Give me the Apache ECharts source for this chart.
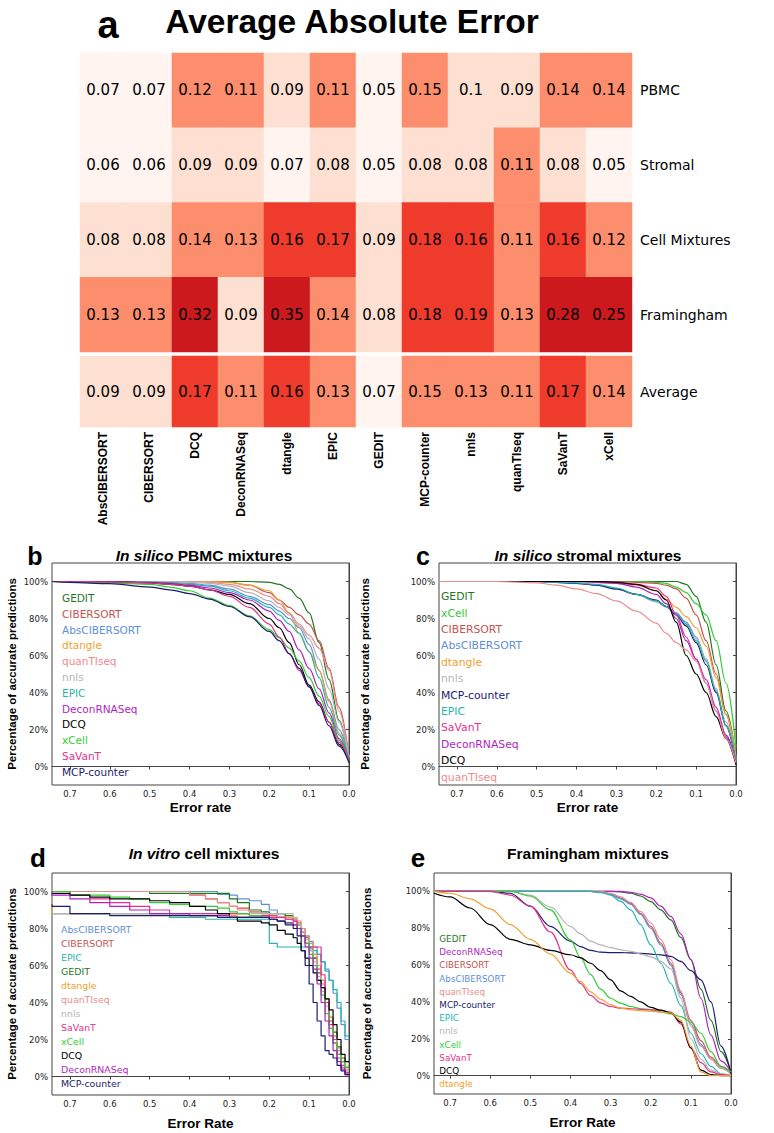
<!DOCTYPE html>
<html><head><meta charset="utf-8">
<script src="https://cdn.jsdelivr.net/npm/echarts/dist/echarts.min.js"></script>
<style>html,body{margin:0;padding:0;background:#fff}#c{width:774px;height:1133px}</style>
</head><body><div id="c"></div>
<script>
// ---------- heatmap data ----------
const methods = ['AbsCIBERSORT','CIBERSORT','DCQ','DeconRNASeq','dtangle','EPIC','GEDIT','MCP-counter','nnls','quanTIseq','SaVanT','xCell'];
const rowNames = ['PBMC','Stromal','Cell Mixtures','Framingham'];
const avgRowName = ['Average'];
const errPBMC       = [0.07,0.07,0.12,0.11,0.09,0.11,0.05,0.15,0.1,0.09,0.14,0.14];
const errStromal    = [0.06,0.06,0.09,0.09,0.07,0.08,0.05,0.08,0.08,0.11,0.08,0.05];
const errCellMix    = [0.08,0.08,0.14,0.13,0.16,0.17,0.09,0.18,0.16,0.11,0.16,0.12];
const errFramingham = [0.13,0.13,0.32,0.09,0.35,0.14,0.08,0.18,0.19,0.13,0.28,0.25];
const errAverage    = [0.09,0.09,0.17,0.11,0.16,0.13,0.07,0.15,0.13,0.11,0.17,0.14];

// ---------- curve data ----------
const yTicks = [0,20,40,60,80,100];
const xTicks = [0,0.1,0.2,0.3,0.4,0.5,0.6,0.7];
const bX = [0,0.025,0.05,0.075,0.1,0.125,0.15,0.175,0.2,0.25,0.3,0.35,0.4,0.45,0.5,0.6,0.7,0.745];
const pbmcCurves = {
  'GEDIT':        [3,25,47,67,83,91,96,98.5,99.5,100,100,100,100,100,100,100,100,100],
  'CIBERSORT':    [5,32,53,68,77,82,86,90,94,98,99.5,100,100,100,100,100,100,100],
  'AbsCIBERSORT': [4,20,36,52,66,75,80,84,87.5,92,96,98,99,99.5,100,100,100,100],
  'dtangle':      [3,18,35,52,62,72,83,90,95,98,99.5,100,100,100,100,100,100,100],
  'quanTIseq':    [5,30,52,64,71,77,83,88,92,96,98.5,99.5,100,100,100,100,100,100],
  'nnls':         [5,24,42,58,69,76,82,86,89.5,94,97.5,99,99.5,100,100,100,100,100],
  'EPIC':         [4,17,32,48,62,72,77,82,86,91,95,97.5,98.5,99.3,99.7,100,100,100],
  'DeconRNASeq':  [3,15,29,42,53,63,73,79,84,90,94,96.5,98,99,99.5,100,100,100],
  'DCQ':          [3,12,24,35,44,55,67,75,80,88,93,95.5,97.5,98.5,99.3,99.8,100,100],
  'xCell':        [3,14,27,38,48,57,64,69.5,74,81.5,87,91,95,97,98.5,99.3,99.7,100],
  'SaVanT':       [3,13,24,34,43,52,61,70,77,86,92,95.5,97.5,98.5,99.3,99.8,100,100],
  'MCP-counter':  [2,11,22,33,43,53,61,68,73,81,86.5,90.5,93.5,95.5,97,98.8,99.5,100]
};
const stromalCurves = {
  'GEDIT':        [5,30,55,78,92,98.5,100,100,100,100,100,100,100,100,100,100,100,100],
  'xCell':        [10,45,68,82,88,94,97,99,99.5,100,100,100,100,100,100,100,100,100],
  'CIBERSORT':    [3,28,50,68,82,91,96,98,99,99.5,100,100,100,100,100,100,100,100],
  'AbsCIBERSORT': [3,22,40,58,70,78,83,86.5,89.5,93,96,98,99,99.5,100,100,100,100],
  'dtangle':      [5,28,48,65,75,81,86,90.5,95,98,99,99.5,100,100,100,100,100,100],
  'nnls':         [4,24,42,58,69,77,82,86,89,93,96,98,99,99.5,100,100,100,100],
  'MCP-counter':  [2,22,40,55,67,76,82,86.5,90,93,96,98,99,99.5,100,100,100,100],
  'EPIC':         [3,22,41,57,68,77,82.5,86.5,89.5,93,96.5,98.5,99.3,99.7,100,100,100,100],
  'SaVanT':       [2,16,30,45,58,70,82,92,96.5,98.5,99.5,100,100,100,100,100,100,100],
  'DeconRNASeq':  [2,17,32,47,58,68,80,88,93,97,99,99.5,100,100,100,100,100,100],
  'DCQ':          [1,15,27,40,50,60,78,90,95,98.5,99.5,100,100,100,100,100,100,100],
  'quanTIseq':    [2,15,30,45,57,63,67,72,77.5,84,89.5,93.5,96,98,99.3,100,100,100]
};
const dX = [0,0.01,0.02,0.03,0.04,0.05,0.06,0.07,0.08,0.09,0.1,0.11,0.12,0.13,0.14,0.16,0.18,0.2,0.22,0.25,0.28,0.3,0.33,0.36,0.4,0.45,0.5,0.55,0.6,0.65,0.7,0.745];
const cellMixCurves = {
  'AbsCIBERSORT': [20,28,37,45,52,58,62,66,70,73,76,80,83,85,86,88,90,93,95,96,98,98.5,100,100,100,100,100,100,100,100,100,100],
  'CIBERSORT':    [2,6,12,20,30,40,50,58,64,68,72,76,80,84,85,86,87,88,89,91,92,94,96,98,100,100,100,100,100,100,100,100],
  'EPIC':         [22,30,40,47,52,57,62,66,68,69,70,70,70,70,70,70,72,85,85,85,85,85,85,86,86,88,88,88,88,88,88,88],
  'GEDIT':        [5,10,16,24,32,40,48,56,64,70,75,78,82,85,87,88,88,89,90,94,96,99,99,99,99,99,100,100,100,100,100,100],
  'dtangle':      [4,8,14,22,30,42,52,60,66,72,76,80,83,85,86,86,86,86,86,86,87,87,87,87,88,88,88,88,88,88,88,94],
  'quanTIseq':    [3,8,14,22,32,42,52,60,66,72,76,80,84,85,85,86,88,88,89,90,92,94,96,98,100,100,100,100,100,100,100,100],
  'nnls':         [3,8,15,22,30,38,46,54,62,68,74,78,82,86,88,88,88,88,88,88,88,88,88,88,88,88,88,88,88,88,88,88],
  'SaVanT':       [2,5,10,18,28,40,55,70,70,70,72,76,80,84,85,86,86,87,87,88,88,88,88,88,88,90,92,94,96,98,100,100],
  'xCell':        [5,8,12,18,26,34,44,52,60,66,72,76,80,82,83,84,85,86,87,88,89,91,92,92,93,94,96,97,98,98,100,100],
  'DCQ':          [8,12,20,28,36,42,48,52,56,60,64,68,72,75,77,79,82,83,84,84,86,88,90,92,94,95,96,96,97,98,99,99],
  'DeconRNASeq':  [1,4,8,14,22,30,40,50,58,64,70,76,80,82,83,84,85,86,86,86,86,87,87,87,88,88,90,92,94,96,98,100],
  'MCP-counter':  [1,3,6,10,12,14,22,30,40,50,60,68,76,80,82,84,85,86,86,86,86,86,87,87,87,87,87,87,88,88,92,93]
};
const eX = [0,0.025,0.05,0.075,0.1,0.125,0.15,0.175,0.2,0.225,0.25,0.275,0.3,0.325,0.35,0.375,0.4,0.45,0.5,0.55,0.6,0.65,0.7,0.74];
const framCurves = {
  'GEDIT':        [2,13,30,47,63,75,84.5,90,94.5,97.5,99,99.7,100,100,100,100,100,100,100,100,100,100,100,100],
  'DeconRNASeq':  [2,8,22,42,63,77,86.4,92,96.5,98.5,99.5,100,100,100,100,100,100,100,100,100,100,100,100,100],
  'CIBERSORT':    [1,5,10,19,30,45,61,72,81,88,93.5,96.4,98.5,99.5,100,100,100,100,100,100,100,100,100,100],
  'AbsCIBERSORT': [1,4,9,17,28,44,60,71,80,87.5,93,96,98.5,99.5,100,100,100,100,100,100,100,100,100,100],
  'quanTIseq':    [1,4,9,16,27,46,63,74,83,89,94,97,99,100,100,100,100,100,100,100,100,100,100,100],
  'MCP-counter':  [1,16,40,52,57,62,64.7,65.5,66,66.4,66.6,66.8,66.8,67,68,70,73,81,92,99,100,100,100,100],
  'EPIC':         [0,1,5,12,23,38,50,61,71,82,90,94.6,98,99.5,100,100,100,100,100,100,100,100,100,100],
  'nnls':         [0,1,3,9,20,42,58,62,64.5,66,67.5,68.3,69.5,71,73,77,81,91.5,98,100,100,100,100,100],
  'xCell':        [2,5,13,23,29,32,33.5,34.5,35.8,36.3,37.5,39.3,42,47,55,64,73.7,90,97.5,100,100,100,100,100],
  'SaVanT':       [0,0.5,2,7,15,28,34.5,35.3,35.7,36,36.3,36.6,37.5,39.5,43.5,50,57.4,78,92,98,100,100,100,100],
  'DCQ':          [0,0,0.5,3,15,29,34,35.5,37,40,43,46,52,57,61,64,65.6,68,71,74,82,91,97,99],
  'dtangle':      [0,0,0,2,16,30,34,34.5,35,35.2,35.8,36.6,38.5,41.5,45.5,51,55.6,66,74,82,90.5,96,99,100]
};

// ---------- styles ----------
const colors = {
  'GEDIT':'#1f771f','CIBERSORT':'#c25450','AbsCIBERSORT':'#5f8fd6','dtangle':'#f0a030',
  'quanTIseq':'#eb8c8c','nnls':'#b4b4b4','EPIC':'#26b5b0','DeconRNASeq':'#b01fc0',
  'DCQ':'#000000','xCell':'#33cc33','SaVanT':'#e6308f','MCP-counter':'#1c1c6e'
};
const DV = "'DejaVu Sans', sans-serif";
const LS = "'Liberation Sans', Arial, sans-serif";

const panels = [
  {xs:bX, curves:pbmcCurves, left:52, top:563, width:297, height:222, xmax:0.745, step:false,
   xname:'Error rate', xgap:15, ygap:34, legLeft:57, legTop:590, legGap:15.8, legFont:10.5},
  {xs:bX, curves:stromalCurves, left:439, top:563, width:297, height:222, xmax:0.745, step:false,
   xname:'Error rate', xgap:15, ygap:68, legLeft:436, legTop:588.5, legGap:16.4, legFont:10.8},
  {xs:dX, curves:cellMixCurves, left:52, top:873, width:297, height:222, xmax:0.745, step:true,
   xname:'Error Rate', xgap:21, ygap:34, legLeft:56, legTop:922.3, legGap:14.06, legFont:9.4},
  {xs:eX, curves:framCurves, left:434, top:873, width:297, height:221, xmax:0.74, step:false,
   xname:'Error Rate', xgap:21, ygap:61, legLeft:434.3, legTop:932.4, legGap:13.2, legFont:8.8}
];

const grid = [
  {left:80, top:53, width:552, height:299},
  {left:80, top:356, width:552, height:71}
];
const xAxis = [
  {gridIndex:0, type:'category', data:methods, show:false},
  {gridIndex:1, type:'category', data:methods, position:'bottom',
   axisLine:{show:false}, axisTick:{show:false},
   axisLabel:{rotate:90, interval:0, margin:5, color:'#000', fontSize:12, fontWeight:'bold', fontFamily:LS}}
];
const yAxis = [
  {gridIndex:0, type:'category', data:rowNames, inverse:true, position:'right',
   axisLine:{show:false}, axisTick:{show:false},
   axisLabel:{margin:8, color:'#000', fontSize:14, fontFamily:DV}},
  {gridIndex:1, type:'category', data:avgRowName, position:'right',
   axisLine:{show:false}, axisTick:{show:false},
   axisLabel:{margin:8, color:'#000', fontSize:14, fontFamily:DV}}
];
const heatTop = [];
[errPBMC, errStromal, errCellMix, errFramingham].forEach((row, r) => {
  row.forEach((v, c) => heatTop.push([c, r, v]));
});
const heatAvg = errAverage.map((v, c) => [c, 0, v]);
const cellLabel = {show:true, color:'#000', fontSize:15, fontFamily:DV, formatter:p => String(p.value[2])};
const series = [
  {type:'heatmap', xAxisIndex:0, yAxisIndex:0, data:heatTop, label:cellLabel, emphasis:{disabled:true}},
  {type:'heatmap', xAxisIndex:1, yAxisIndex:1, data:heatAvg, label:cellLabel, emphasis:{disabled:true}}
];
const legend = [];

panels.forEach((p, k) => {
  const gi = k + 2;
  grid.push({left:p.left, top:p.top, width:p.width, height:p.height, show:true, borderColor:'#444', borderWidth:1});
  xAxis.push({gridIndex:gi, type:'value', min:0, max:p.xmax, inverse:true,
    axisLine:{show:true, lineStyle:{color:'#444'}},
    axisTick:{show:true, length:3, customValues:xTicks, lineStyle:{color:'#444'}},
    splitLine:{show:false},
    axisLabel:{color:'#222', fontSize:8.5, fontFamily:DV, margin:4, customValues:xTicks, formatter:v => v.toFixed(1)},
    name:p.xname, nameLocation:'middle', nameGap:p.xgap,
    nameTextStyle:{fontSize:13.5, fontWeight:'bold', color:'#000', fontFamily:LS}});
  yAxis.push({gridIndex:gi, type:'value', min:-10, max:110,
    axisLine:{show:true, lineStyle:{color:'#444'}},
    axisTick:{show:true, length:3, customValues:yTicks, lineStyle:{color:'#444'}},
    splitLine:{show:false},
    axisLabel:{color:'#222', fontSize:8.5, fontFamily:DV, margin:4, customValues:yTicks, formatter:v => v + '%'},
    name:'Percentage of accurate predictions', nameLocation:'middle', nameGap:p.ygap,
    nameTextStyle:{fontSize:11.5, fontWeight:'bold', color:'#000', fontFamily:LS}});
  const names = Object.keys(p.curves);
  names.forEach(n => {
    const ys = p.curves[n];
    series.push({
      type:'line', name:n, xAxisIndex:gi, yAxisIndex:gi,
      data:p.xs.map((x, i) => [x, ys[i]]),
      showSymbol:false, symbol:'none',
      smooth:p.step ? false : 0.35, smoothMonotone:'x',
      step:p.step ? 'end' : false,
      lineStyle:{color:colors[n], width:1.2}, itemStyle:{color:colors[n]},
      emphasis:{disabled:true}, silent:true
    });
  });
  legend.push({left:p.legLeft, top:p.legTop, orient:'vertical', padding:0, itemGap:0,
    itemWidth:0, itemHeight:1, icon:'none', selectedMode:false,
    textStyle:{fontSize:p.legFont, fontFamily:DV, lineHeight:p.legGap},
    data:names.map(n => ({name:n, textStyle:{color:colors[n]}}))});
});

const boldT = {fontWeight:'bold', color:'#000', fontFamily:LS};
const richI = {i:{fontStyle:'italic', fontWeight:'bold', fontSize:15.5, fontFamily:LS, color:'#000'}};
const title = [
  {text:'a', left:108, top:6, textAlign:'center', padding:0, textStyle:Object.assign({fontSize:38}, boldT)},
  {text:'Average Absolute Error', left:352, top:4, textAlign:'center', padding:0, textStyle:Object.assign({fontSize:33.5}, boldT)},
  {text:'b', left:35, top:543, textAlign:'center', padding:0, textStyle:Object.assign({fontSize:25}, boldT)},
  {text:'{i|In silico} PBMC mixtures', left:204, top:547, textAlign:'center', padding:0,
   textStyle:Object.assign({fontSize:15.5, rich:richI}, boldT)},
  {text:'c', left:423, top:543, textAlign:'center', padding:0, textStyle:Object.assign({fontSize:25}, boldT)},
  {text:'{i|In silico} stromal mixtures', left:588, top:547, textAlign:'center', padding:0,
   textStyle:Object.assign({fontSize:15.5, rich:richI}, boldT)},
  {text:'d', left:38, top:845, textAlign:'center', padding:0, textStyle:Object.assign({fontSize:26}, boldT)},
  {text:'{i|In vitro} cell mixtures', left:204, top:845, textAlign:'center', padding:0,
   textStyle:Object.assign({fontSize:15.5, rich:richI}, boldT)},
  {text:'e', left:418, top:845, textAlign:'center', padding:0, textStyle:Object.assign({fontSize:26}, boldT)},
  {text:'Framingham mixtures', left:588, top:845, textAlign:'center', padding:0, textStyle:Object.assign({fontSize:15.5}, boldT)}
];

const chart = echarts.init(document.getElementById('c'), null, {renderer:'svg'});
chart.setOption({
  backgroundColor:'#fff',
  animation:false,
  title, grid, xAxis, yAxis, legend, series,
  visualMap:{type:'piecewise', show:false, seriesIndex:[0,1], dimension:2,
    pieces:[
      {lt:0.075, color:'#fff4ef'},
      {gte:0.075, lt:0.105, color:'#fde0d2'},
      {gte:0.105, lt:0.155, color:'#fc8d6d'},
      {gte:0.155, lt:0.22, color:'#ee3b2c'},
      {gte:0.22, color:'#cb191e'}
    ]}
});
</script></body></html>
